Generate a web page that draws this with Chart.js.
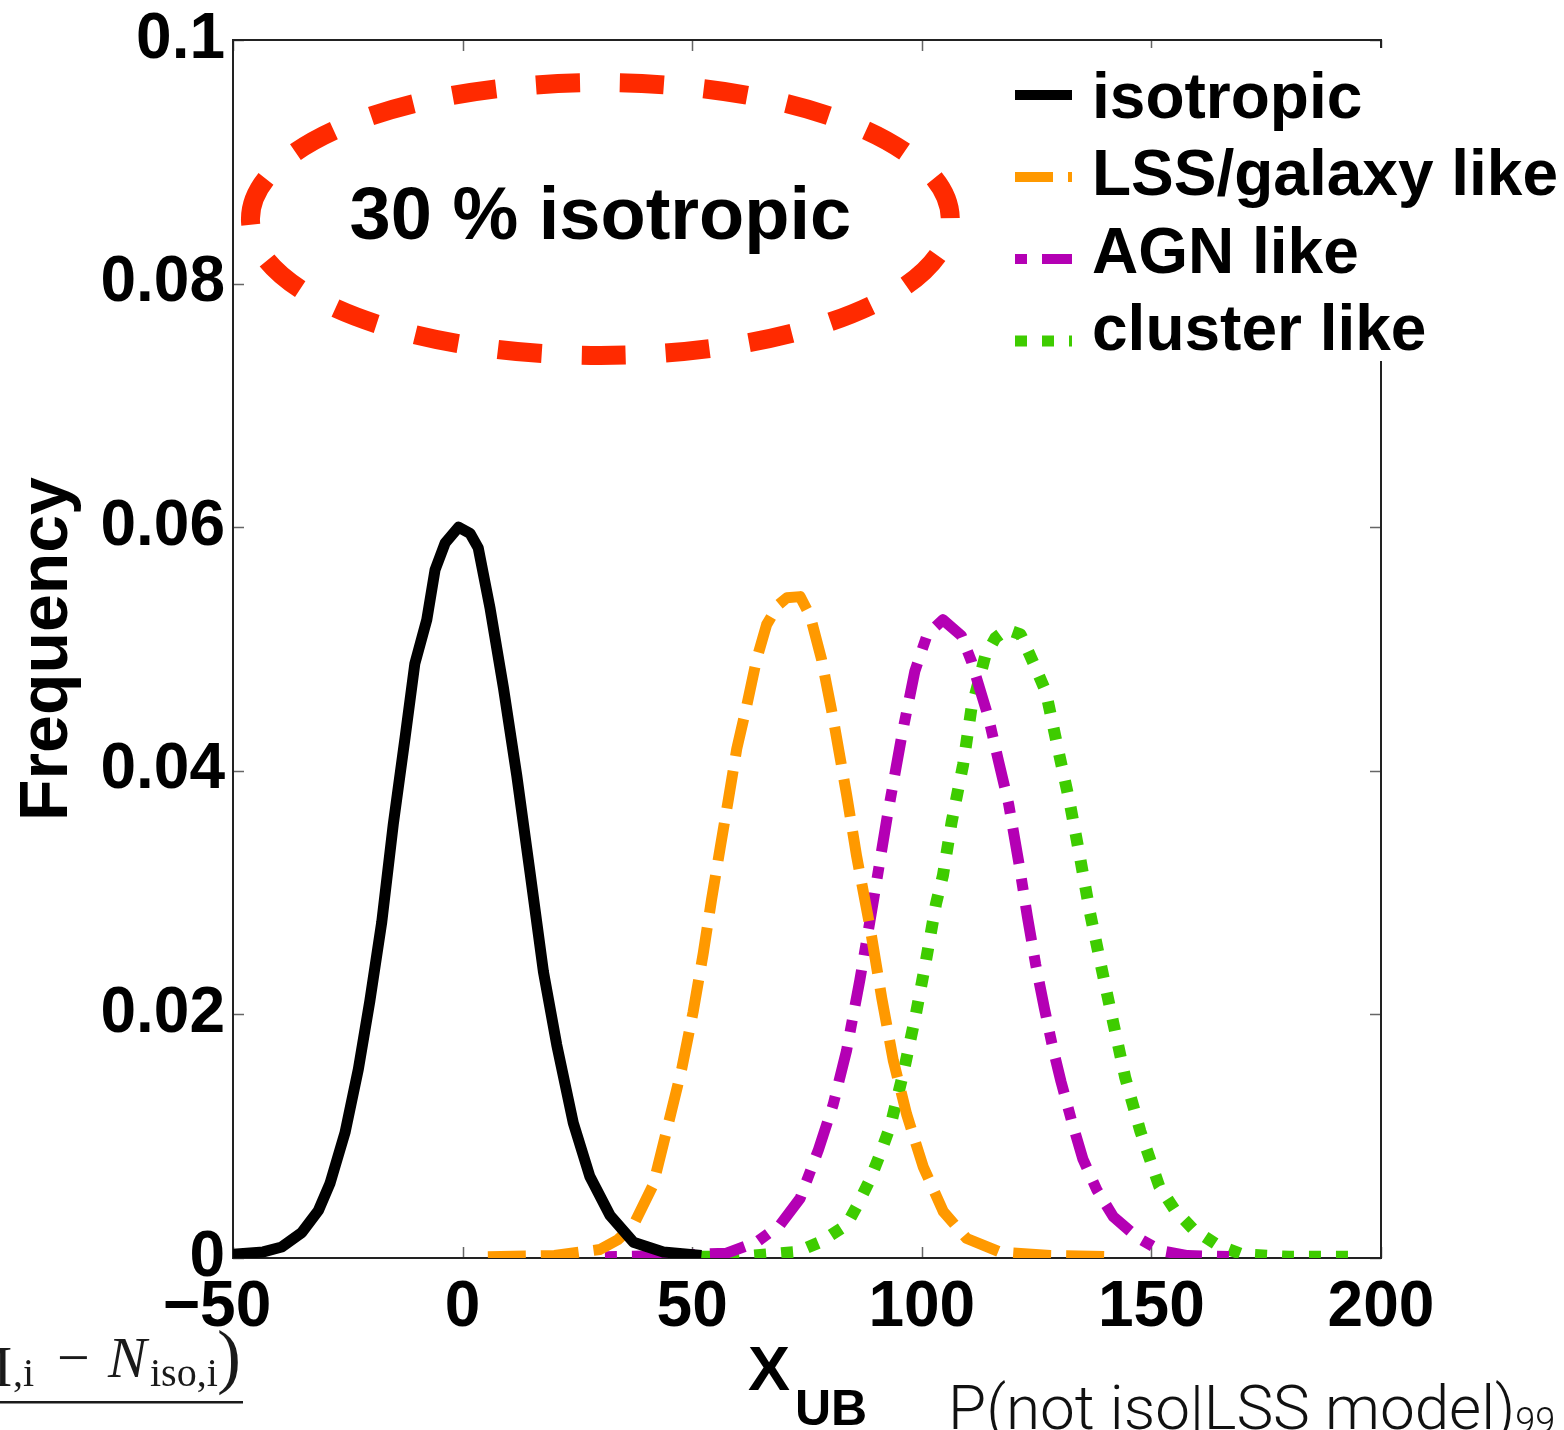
<!DOCTYPE html>
<html lang="en">
<head>
  <meta charset="UTF-8">
  <title>X_UB distributions, 30 % isotropic</title>
  <script src="https://cdn.jsdelivr.net/npm/chart.js"></script>
  <style>
    body { margin: 0; background: #fff; }
    canvas { display: block; }
  </style>
</head>
<body>
  <canvas id="grafico" width="1564" height="1430"></canvas>

  <script>
    // curve samples: x = X_UB, y = frequency
    const isoX = [-50, -43.4, -39.4, -35.0, -31.4, -28.9, -25.6, -22.7, -20.2, -17.6, -15.1, -12.5, -10.4, -7.8, -6.0, -3.8, -0.9, 1.6, 3.4, 6.0, 8.9, 11.8, 14.7, 17.6, 20.5, 24.1, 27.7, 32.1, 37.2, 43.7, 52.0];
    const isoY = [0.0003, 0.0005, 0.0009, 0.0021, 0.0039, 0.0061, 0.0103, 0.0155, 0.0211, 0.0276, 0.0356, 0.0428, 0.0488, 0.0524, 0.0565, 0.0587, 0.0600, 0.0595, 0.0583, 0.0533, 0.0468, 0.0396, 0.0316, 0.0235, 0.0175, 0.0111, 0.0067, 0.0035, 0.0013, 0.0005, 0.0002];

    const lssX = [5.5, 20.0, 29.9, 33.8, 37.2, 41.5, 44.4, 47.7, 50.2, 52.4, 54.2, 56.1, 57.9, 59.7, 61.9, 64.0, 66.2, 68.7, 70.6, 73.5, 75.7, 78.2, 80.7, 83.6, 85.8, 88.7, 91.3, 93.8, 96.7, 100.3, 104.7, 109.8, 117.0, 128.0, 142.5];
    const lssY = [0.0001, 0.0002, 0.0007, 0.0015, 0.0027, 0.0060, 0.0104, 0.0155, 0.0202, 0.0250, 0.0294, 0.0337, 0.0377, 0.0418, 0.0454, 0.0491, 0.0520, 0.0536, 0.0542, 0.0543, 0.0527, 0.0491, 0.0443, 0.0381, 0.0330, 0.0272, 0.0213, 0.0162, 0.0118, 0.0075, 0.0038, 0.0016, 0.0005, 0.0002, 0.0001];

    const agnX = [31.0, 45.0, 57.5, 64.0, 69.1, 73.5, 77.5, 80.7, 83.6, 86.5, 89.4, 92.5, 95.7, 98.5, 101.2, 104.6, 108.6, 110.8, 114.5, 116.7, 118.9, 121.2, 123.0, 124.8, 126.7, 128.5, 130.3, 132.6, 135.1, 138.1, 141.7, 146.9, 152.0, 157.9, 169.0];
    const agnY = [0.0001, 0.0002, 0.0004, 0.0013, 0.0027, 0.0049, 0.0089, 0.0126, 0.0170, 0.0228, 0.0292, 0.0363, 0.0430, 0.0482, 0.0512, 0.0524, 0.0511, 0.0490, 0.0444, 0.0408, 0.0373, 0.0323, 0.0280, 0.0241, 0.0205, 0.0173, 0.0145, 0.0113, 0.0081, 0.0056, 0.0034, 0.0017, 0.0006, 0.0002, 0.0001];

    const clusterX = [40.0, 60.0, 72.8, 77.8, 83.6, 86.2, 88.8, 91.0, 93.2, 96.1, 98.7, 100.9, 103.1, 104.6, 106.5, 109.0, 110.8, 112.3, 113.8, 116.0, 118.5, 121.5, 124.5, 127.0, 129.6, 132.2, 134.4, 136.6, 139.2, 141.7, 144.3, 147.6, 151.7, 155.0, 159.0, 164.2, 169.7, 180.0, 194.3];
    const clusterY = [0.0001, 0.0001, 0.0005, 0.0013, 0.0027, 0.0045, 0.0065, 0.0086, 0.0109, 0.0154, 0.0200, 0.0244, 0.0291, 0.0314, 0.0358, 0.0405, 0.0451, 0.0472, 0.0494, 0.0509, 0.0516, 0.0512, 0.0487, 0.0465, 0.0419, 0.0374, 0.0330, 0.0284, 0.0237, 0.0193, 0.0148, 0.0104, 0.0059, 0.0040, 0.0024, 0.0011, 0.0003, 0.0001, 0.0001];

    const seriesNames = ['isotropic', 'LSS/galaxy like', 'AGN like', 'cluster like'];
    // en space after -50 keeps the digits centred under the tick
    const xTickLabels = ['\u221250\u2002', '0', '50', '100', '150', '200'];
    const yTickLabels = ['0', '0.02', '0.04', '0.06', '0.08', '0.1'];

    // highlighted region: centre and half-axes in data units
    const marcaCentro = [30, 0.0853];
    const marcaRadio = [76.2, 0.0112];
    const marcaTexto = '30 % isotropic';

    const FUENTE = "'Liberation Sans', Arial, Helvetica, sans-serif";
    Chart.defaults.font.family = FUENTE;
    Chart.defaults.color = '#000';

    function puntos(xs, ys) {
      return xs.map((x, i) => ({ x: x, y: ys[i] }));
    }

    const datos = {
      datasets: [
        { label: seriesNames[0], data: puntos(isoX, isoY), borderColor: '#000000', borderWidth: 11, borderDash: [] },
        { label: seriesNames[1], data: puntos(lssX, lssY), borderColor: '#ff9900', borderWidth: 11, borderDash: [38, 15] },
        { label: seriesNames[2], data: puntos(agnX, agnY), borderColor: '#b400b4', borderWidth: 11, borderDash: [12, 15, 36, 15] },
        { label: seriesNames[3], data: puntos(clusterX, clusterY), borderColor: '#3ecc00', borderWidth: 12, borderDash: [12, 15] }
      ]
    };
    datos.datasets.forEach(ds => {
      ds.pointRadius = 0;
      ds.tension = 0;
      ds.fill = false;
      ds.borderCapStyle = 'butt';
      ds.borderJoinStyle = 'round';
    });

    // frame, inward ticks, ellipse note, legend and the extra labels
    const decoracion = {
      id: 'decoracion',
      beforeDatasetsDraw(chart) {
        const { ctx, chartArea: a, scales: { x, y } } = chart;
        ctx.save();
        ctx.strokeStyle = '#666';
        ctx.lineWidth = 1.5;
        ctx.beginPath();
        x.ticks.forEach(t => {
          const px = Math.round(x.getPixelForValue(t.value)) + 0.5;
          ctx.moveTo(px, a.bottom); ctx.lineTo(px, a.bottom - 11);
          ctx.moveTo(px, a.top); ctx.lineTo(px, a.top + 11);
        });
        y.ticks.forEach(t => {
          const py = Math.round(y.getPixelForValue(t.value)) + 0.5;
          ctx.moveTo(a.left, py); ctx.lineTo(a.left + 11, py);
          ctx.moveTo(a.right, py); ctx.lineTo(a.right - 11, py);
        });
        ctx.stroke();
        ctx.strokeStyle = '#222';
        ctx.lineWidth = 2;
        ctx.strokeRect(a.left, a.top, a.width, a.height);
        ctx.restore();
      },
      afterDraw(chart) {
        const { ctx, chartArea: a, scales: { x, y } } = chart;
        ctx.save();

        // dashed red ellipse with its note
        const cx = x.getPixelForValue(marcaCentro[0]);
        const cy = y.getPixelForValue(marcaCentro[1]);
        const rx = x.getPixelForValue(marcaCentro[0] + marcaRadio[0]) - cx;
        const ry = cy - y.getPixelForValue(marcaCentro[1] + marcaRadio[1]);
        ctx.strokeStyle = '#ff2a00';
        ctx.lineWidth = 19;
        ctx.setLineDash([44, 40]);
        ctx.beginPath();
        ctx.ellipse(cx, cy, rx, ry, 0, Math.PI, 3 * Math.PI);
        ctx.stroke();
        ctx.setLineDash([]);
        ctx.fillStyle = '#000';
        ctx.font = 'bold 74px ' + FUENTE;
        ctx.textAlign = 'center';
        ctx.textBaseline = 'middle';
        ctx.fillText(marcaTexto, cx, cy);

        // legend over the top right corner
        const lx = a.right - 366;
        ctx.fillStyle = '#fff';
        ctx.fillRect(lx - 15, a.top + 8, 1564 - lx + 15, 313);
        ctx.font = 'bold 64px ' + FUENTE;
        ctx.textAlign = 'left';
        ctx.textBaseline = 'alphabetic';
        chart.data.datasets.forEach((ds, i) => {
          const ly = a.top + 55 + i * 82;
          const ty = a.top + 78 + i * 77.3;
          ctx.strokeStyle = ds.borderColor;
          ctx.lineWidth = ds.borderWidth - 1;
          ctx.lineCap = 'butt';
          ctx.setLineDash(ds.borderDash);
          ctx.beginPath();
          ctx.moveTo(lx, ly);
          ctx.lineTo(lx + 57, ly);
          ctx.stroke();
          ctx.setLineDash([]);
          ctx.fillStyle = '#000';
          ctx.fillText(ds.label, lx + 77, ty);
        });

        // x axis title with subscript
        const mx = (a.left + a.right) / 2;
        ctx.fillStyle = '#000';
        ctx.font = 'bold 63px ' + FUENTE;
        ctx.fillText('X', mx - 59, a.bottom + 132);
        ctx.font = 'bold 50px ' + FUENTE;
        ctx.fillText('UB', mx - 12, a.bottom + 167);

        // fragment of the neighbouring formula, bottom left
        const serif = "'Liberation Serif', 'DejaVu Serif', serif";
        ctx.fillStyle = '#1a1a1a';
        ctx.font = '58px ' + serif;
        ctx.textAlign = 'right';
        ctx.fillText('M', 12, 1386);
        ctx.textAlign = 'left';
        ctx.font = '40px ' + serif;
        ctx.fillText(',i', 13, 1386);
        ctx.font = '58px ' + serif;
        ctx.fillText('\u2212', 57, 1377);
        ctx.font = 'italic 58px ' + serif;
        ctx.fillText('N', 108, 1377);
        ctx.font = '40px ' + serif;
        ctx.fillText('iso,i', 150, 1386);
        ctx.font = '72px ' + serif;
        ctx.fillText(')', 217, 1380);
        ctx.fillRect(0, 1401, 243, 2.5);

        // probability label, bottom right
        ctx.fillStyle = '#111';
        ctx.font = "300 62px 'Roboto Light', Roboto, " + FUENTE;
        const etiqueta = 'P(not iso|LSS model)';
        ctx.fillText(etiqueta, 948, 1429);
        const ancho = ctx.measureText(etiqueta).width;
        ctx.font = "300 36px 'Roboto Light', Roboto, " + FUENTE;
        ctx.fillText('99', 948 + ancho, 1433);

        ctx.restore();
      }
    };

    const opciones = {
      responsive: false,
      animation: false,
      layout: { padding: { top: 37, right: 183, left: 0, bottom: 0 } },
      plugins: {
        legend: { display: false },
        tooltip: { enabled: false }
      },
      scales: {
        x: {
          type: 'linear',
          min: -50,
          max: 200,
          grid: { display: false, drawTicks: false },
          border: { display: false },
          ticks: {
            stepSize: 50,
            padding: 12,
            maxRotation: 0,
            font: { size: 64, weight: 'bold' },
            callback: (v, i) => xTickLabels[i]
          },
          afterFit: s => { s.height = 172; }
        },
        y: {
          min: 0,
          max: 0.1,
          grid: { display: false, drawTicks: false },
          border: { display: false },
          ticks: {
            stepSize: 0.02,
            padding: 8,
            font: { size: 64, weight: 'bold', lineHeight: 1 },
            callback: (v, i) => yTickLabels[i]
          },
          title: {
            display: true,
            text: 'Frequency',
            font: { size: 68, weight: 'bold' },
            padding: { top: 7, bottom: 0 }
          },
          afterFit: s => { s.width = 233; }
        }
      }
    };

    const ctx = document.getElementById('grafico').getContext('2d');
    const chart = new Chart(ctx, {
      type: 'line',
      data: datos,
      options: opciones,
      plugins: [decoracion]
    });
  </script>
</body>
</html>
